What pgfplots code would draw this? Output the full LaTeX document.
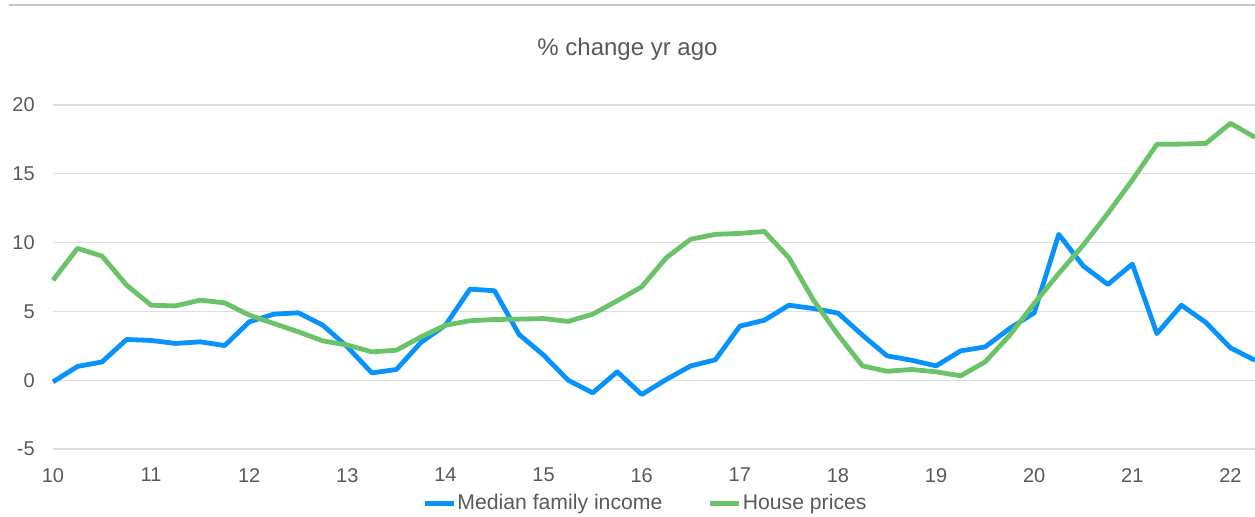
\documentclass[border=0pt]{standalone}
\usepackage{fontspec}
\setmainfont{Liberation Sans}
\usepackage{pgfplots}
\pgfplotsset{compat=1.18}
\definecolor{incblue}{RGB}{8,146,252}
\definecolor{hpgreen}{RGB}{106,195,104}
\definecolor{txtgray}{RGB}{89,89,89}
\definecolor{gridgray}{RGB}{222,222,222}
\definecolor{topgray}{RGB}{200,200,200}
\begin{document}
\begin{tikzpicture}
\useasboundingbox (-26.5pt,-33.5pt) rectangle (601pt,224.5pt);
\draw[topgray, line width=1pt] (-22pt,222pt) -- (601pt,222pt);
\node[text=txtgray, font=\fontsize{12}{14}\selectfont] at (287.25pt,200pt) {\% change yr ago};
\begin{axis}[
  scale only axis,
  width=601pt, height=172pt,
  xmin=10, xmax=22.25,
  ymin=-5, ymax=20,
  xtick={10,11,...,22},
  ytick={-5,0,5,10,15,20},
  axis line style={draw=none},
  major tick length=0pt,
  ymajorgrids,
  grid style={gridgray, line width=0.6pt},
  /pgf/number format/assume math mode=true,
  ticklabel style={text=txtgray, font=\fontsize{10}{12}\selectfont},
  yticklabel style={xshift=-5.6pt},
  xticklabel style={yshift=-6pt},
  clip=false,
  legend columns=2,
  legend style={draw=none, fill=none, at={(0.4925,-0.157)}, anchor=center,
    font=\fontsize{10.6}{12}\selectfont, text=txtgray,
    nodes={inner sep=0.6pt},
    /tikz/every even column/.append style={column sep=22pt},
    inner sep=0pt},
  legend cell align=left,
  legend image code/.code={\draw[#1, line width=2.5pt] (0pt,0pt) -- (14.5pt,0pt);},
]
\addplot[incblue, line width=2.4pt, line join=round] coordinates {
(10.00,-0.12) (10.25,1.00) (10.50,1.33) (10.75,2.96) (11.00,2.89) (11.25,2.67)
(11.50,2.79) (11.75,2.52) (12.00,4.24) (12.25,4.80) (12.50,4.90) (12.75,4.00)
(13.00,2.42) (13.25,0.53) (13.50,0.78) (13.75,2.75) (14.00,4.00) (14.25,6.62)
(14.50,6.50) (14.75,3.32) (15.00,1.82) (15.25,0.00) (15.50,-0.92) (15.75,0.61)
(16.00,-1.04) (16.25,0.05) (16.50,1.04) (16.75,1.48) (17.00,3.93) (17.25,4.36)
(17.50,5.45) (17.75,5.21) (18.00,4.88) (18.25,3.27) (18.50,1.77) (18.75,1.45)
(19.00,1.04) (19.25,2.13) (19.50,2.42) (19.75,3.76) (20.00,4.90) (20.25,10.60)
(20.50,8.30) (20.75,6.96) (21.00,8.44) (21.25,3.39) (21.50,5.45) (21.75,4.19)
(22.00,2.35) (22.25,1.45)
};
\addlegendentry{Median family income}
\addplot[hpgreen, line width=2.4pt, line join=round] coordinates {
(10.00,7.27) (10.25,9.58) (10.50,9.02) (10.75,6.91) (11.00,5.45) (11.25,5.40)
(11.50,5.82) (11.75,5.62) (12.00,4.73) (12.25,4.12) (12.50,3.52) (12.75,2.86)
(13.00,2.55) (13.25,2.06) (13.50,2.18) (13.75,3.15) (14.00,4.00) (14.25,4.32)
(14.50,4.41) (14.75,4.44) (15.00,4.48) (15.25,4.27) (15.50,4.80) (15.75,5.77)
(16.00,6.79) (16.25,8.90) (16.50,10.25) (16.75,10.60) (17.00,10.67) (17.25,10.81)
(17.50,8.90) (17.75,5.82) (18.00,3.30) (18.25,1.04) (18.50,0.65) (18.75,0.78)
(19.00,0.61) (19.25,0.32) (19.50,1.33) (19.75,3.27) (20.00,5.58) (20.25,7.76)
(20.50,9.82) (20.75,12.12) (21.00,14.55) (21.25,17.14) (21.50,17.16) (21.75,17.21)
(22.00,18.67) (22.25,17.65)
};
\addlegendentry{House prices}
\end{axis}
\end{tikzpicture}
\end{document}
